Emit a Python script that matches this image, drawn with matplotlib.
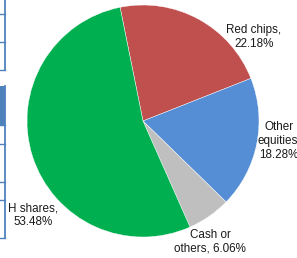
import matplotlib
matplotlib.use("Agg")
import matplotlib.pyplot as plt
from matplotlib.lines import Line2D
from matplotlib.patches import Rectangle

categories = ["Red chips", "Other equities", "Cash or others", "H shares"]
values = [22.18, 18.28, 6.06, 53.48]
label_texts = ["Red chips,\n22.18%", "Other\nequities,\n18.28%", "Cash or\nothers, 6.06%", "H shares,\n53.48%"]
colors = ["#C0504D", "#558ED5", "#BFBFBF", "#00B050"]

W, H = 297, 258
fig = plt.figure(figsize=(W / 100, H / 100), dpi=100)
ax = fig.add_axes([0, 0, 1, 1])

cx, cy, r = 143, H - 121, 116
ax.pie(values, colors=colors, startangle=101.4, counterclock=False,
       center=(cx, cy), radius=r, frame=True,
       wedgeprops=dict(linewidth=0.3, edgecolor="white"))
ax.set_xlim(0, W)
ax.set_ylim(0, H)
ax.set_aspect("equal")
ax.axis("off")

font = dict(family="Liberation Sans", fontsize=8.4, color="#1a1a1a", ha="center", va="center", linespacing=1.2)
label_pos = [(254, 37), (279, 141), (210, 242), (33, 215)]
for (px, py), t in zip(label_pos, label_texts):
    ax.text(px, H - py, t, **font)

# fragments of neighbouring table on the left edge
lc = "#4F81BD"
def hl(y, x0=0, x1=5):
    ax.add_line(Line2D([x0, x1], [H - y, H - y], color=lc, lw=1.0))
def vl(x, y0, y1):
    ax.add_line(Line2D([x, x], [H - y0, H - y1], color=lc, lw=1.3))
vl(5, 0, 70)
for y in [14, 42, 70]:
    hl(y)
ax.add_patch(Rectangle((0, H - 125), 5, 39, color=lc, lw=0))
vl(5, 86, 238)
for y in [125, 144, 182, 200, 238]:
    hl(y)

fig.savefig("out.png", dpi=100)
